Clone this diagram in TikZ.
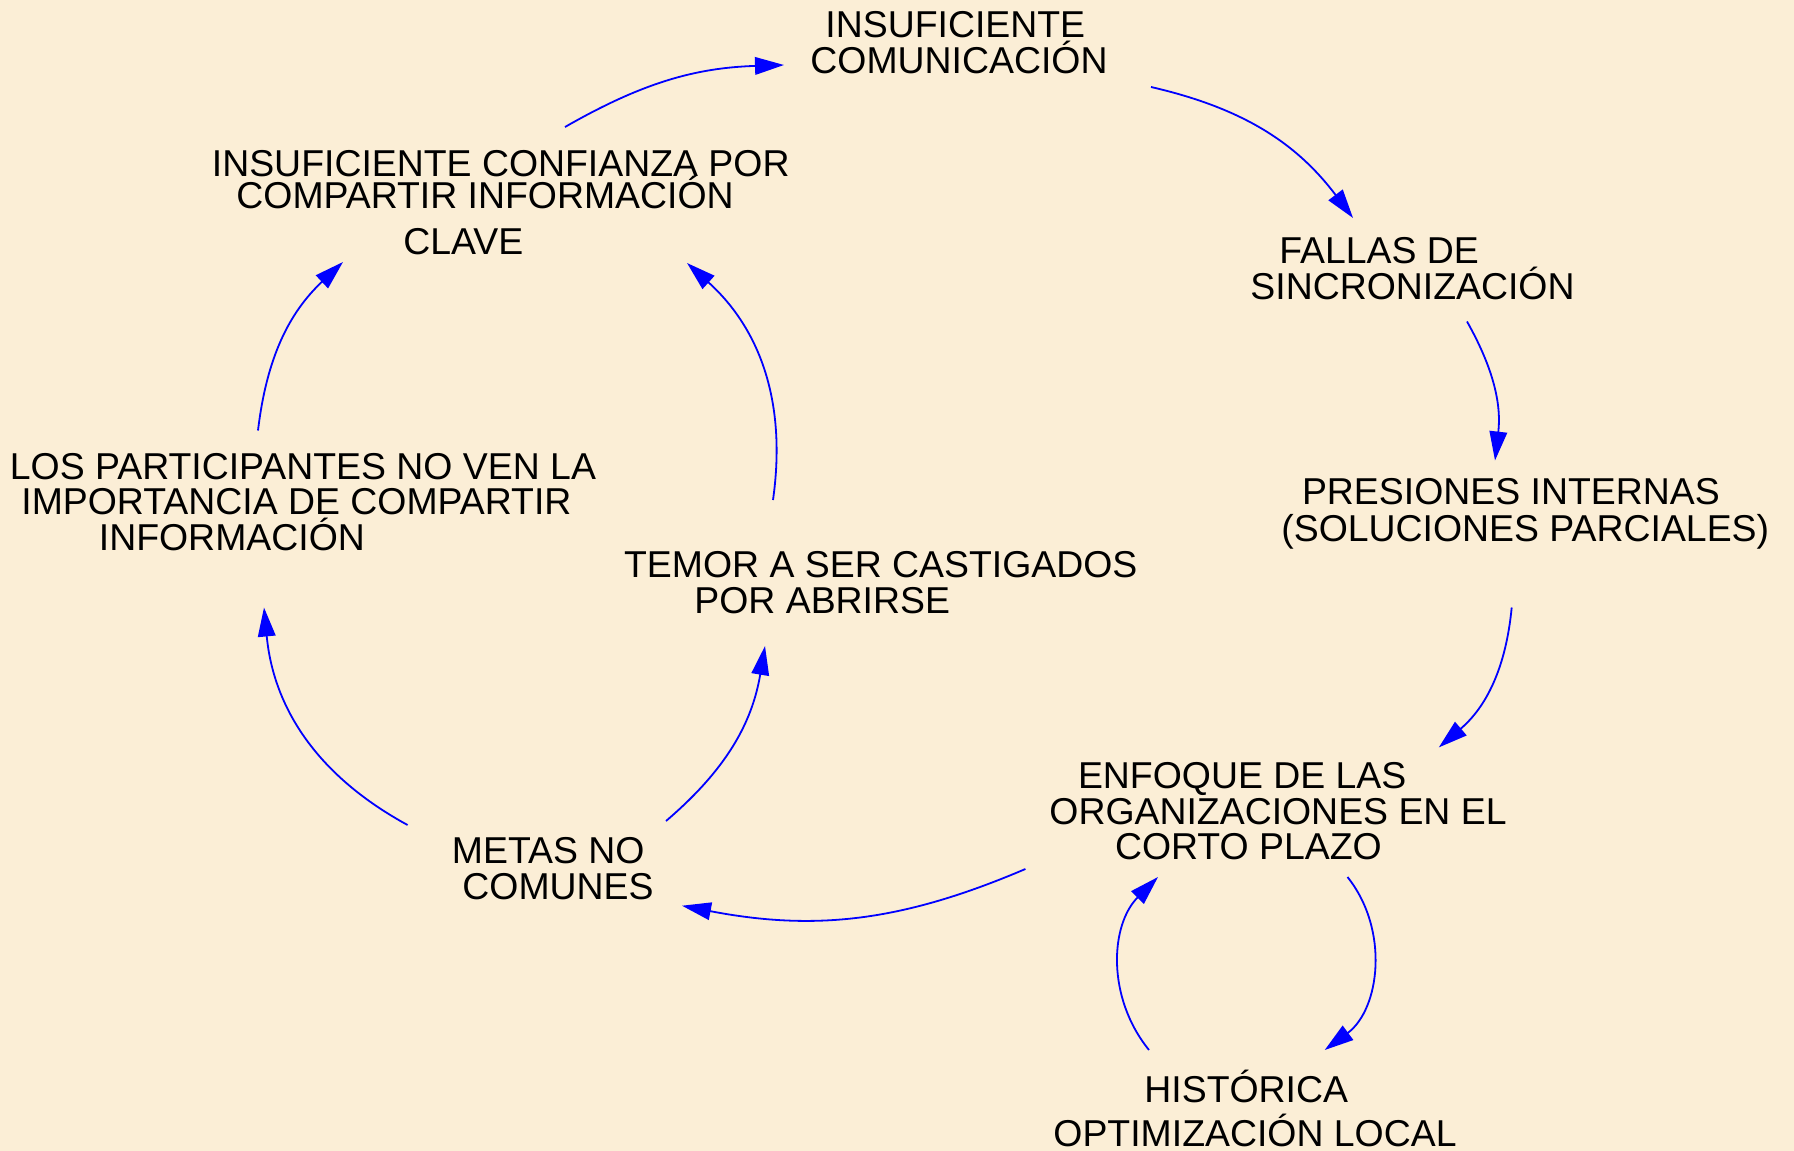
\documentclass[tikz,border=0pt]{standalone}
\usepackage{fontspec}
\setmainfont{Liberation Sans}
\usetikzlibrary{arrows.meta}
\definecolor{paper}{RGB}{251,238,214}
\definecolor{linkblue}{RGB}{0,0,255}
\begin{document}
\begin{tikzpicture}[x=0.5pt,y=0.5pt,
  lbl/.style={anchor=base west, align=left, inner sep=0pt, text=black,
    font=\fontsize{18.7pt}{17.75pt}\selectfont},
  link/.style={draw=linkblue, line width=0.9pt,
    -{Triangle[length=14.5pt,width=8.8pt,fill=linkblue]}}]
\fill[paper] (0,0) rectangle (1794,-1151);
\useasboundingbox (0,0) rectangle (1794,-1151);

% concepts (anchored at the baseline of their last line)
\node[lbl] (A) at (810,-73) {\hspace*{7.5pt}INSUFICIENTE\\COMUNICACIÓN};
\node[lbl] (B) at (211.5,-254.5) {INSUFICIENTE CONFIANZA POR\\[-1.5pt]\hspace*{12.25pt}COMPARTIR INFORMACIÓN\\[5.25pt]\hspace*{95.75pt}CLAVE};
\node[lbl] (C) at (9.5,-550) {LOS PARTICIPANTES NO VEN LA\\\hspace*{5.75pt}IMPORTANCIA DE COMPARTIR\\\hspace*{44.5pt}INFORMACIÓN};
\node[lbl] (D) at (623.7,-613) {TEMOR A SER CASTIGADOS\\\hspace*{35.15pt}POR ABRIRSE};
\node[lbl] (E) at (1250,-299) {\hspace*{14.5pt}FALLAS DE\\SINCRONIZACIÓN};
\node[lbl] (F) at (1281,-541) {\hspace*{10.3pt}PRESIONES INTERNAS\\[0.75pt](SOLUCIONES PARCIALES)};
\node[lbl] (G) at (1049,-859.7) {\hspace*{14.3pt}ENFOQUE DE LAS\\ORGANIZACIONES EN EL\\\hspace*{32.8pt}CORTO PLAZO};
\node[lbl] (H) at (1053,-1146) {\hspace*{45.5pt}HISTÓRICA\\[4.25pt]OPTIMIZACIÓN LOCAL};
\node[lbl] (I) at (451.5,-899) {METAS NO\\\hspace*{5.25pt}COMUNES};

% link end points
\coordinate (BA-s) at (565,-127);     \coordinate (BA-e) at (784,-65);
\coordinate (AE-s) at (1151,-87);     \coordinate (AE-e) at (1353,-218);
\coordinate (EF-s) at (1467,-321.5);  \coordinate (EF-e) at (1495,-460.5);
\coordinate (FG-s) at (1511.7,-607.5);\coordinate (FG-e) at (1438.8,-747.4);
\coordinate (GI-s) at (1025.4,-869);  \coordinate (GI-e) at (682,-905.7);
\coordinate (GH-s) at (1347.5,-877);  \coordinate (GH-e) at (1324.7,-1050);
\coordinate (HG-s) at (1149,-1050);   \coordinate (HG-e) at (1158,-877);
\coordinate (IC-s) at (407.6,-825);   \coordinate (IC-e) at (264,-607.5);
\coordinate (ID-s) at (666,-821);     \coordinate (ID-e) at (765,-646);
\coordinate (CB-s) at (258,-430.5);   \coordinate (CB-e) at (343,-262);
\coordinate (DB-s) at (773,-500);     \coordinate (DB-e) at (687,-263);

% links
\draw[link] (BA-s) to[bend left=14] (BA-e);
\draw[link] (AE-s) to[bend left=20] (AE-e);
\draw[link] (EF-s) to[bend left=18] (EF-e);
\draw[link] (FG-s) to[bend left=22] (FG-e);
\draw[link] (GI-s) to[bend left=17] (GI-e);
\draw[link] (GH-s) to[bend left=46] (GH-e);
\draw[link] (HG-s) to[bend left=42] (HG-e);
\draw[link] (IC-s) to[bend left=28] (IC-e);
\draw[link] (ID-s) to[bend right=20] (ID-e);
\draw[link] (CB-s) to[bend left=20] (CB-e);
\draw[link] (DB-s) to[bend right=28] (DB-e);
\end{tikzpicture}
\end{document}
